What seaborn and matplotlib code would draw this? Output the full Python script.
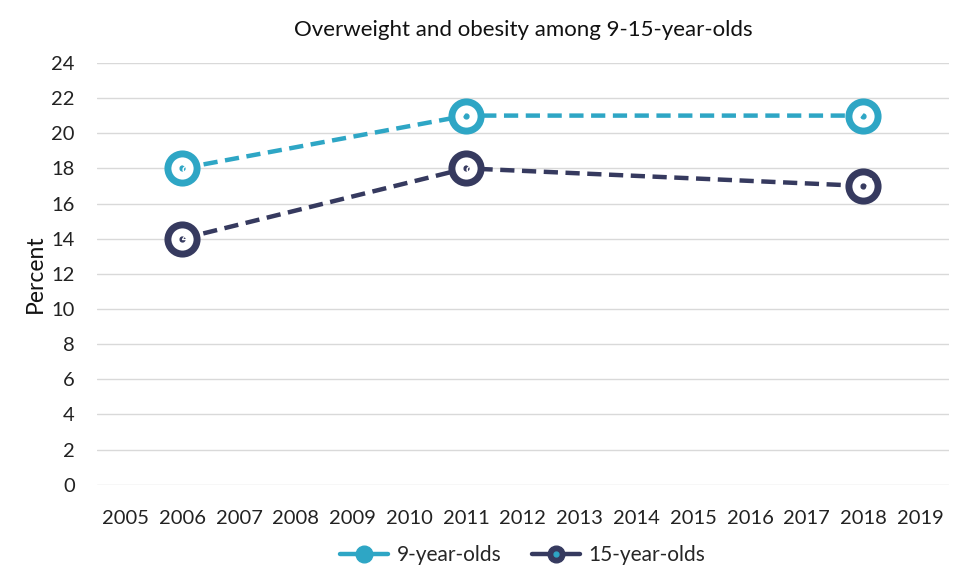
import numpy as np
import pandas as pd
import seaborn as sns
from matplotlib import pyplot as plt
from matplotlib.lines import Line2D

years = [2006, 2011, 2018]
age9 = [18, 21, 21]
age15 = [14, 18, 17]
series_names = ['9-year-olds', '15-year-olds']
x_ticks = list(range(2005, 2020))
y_ticks = list(range(0, 25, 2))

COLORS = {'9-year-olds': '#2EA6C5', '15-year-olds': '#363A5F'}

df = pd.DataFrame({
    'year': years * 2,
    'value': age9 + age15,
    'group': [series_names[0]] * len(years) + [series_names[1]] * len(years),
})

sns.set_style('white')
plt.rcParams['font.family'] = ['Lato', 'DejaVu Sans']

fig, ax = plt.subplots(figsize=(9.7, 5.82), dpi=100)
fig.subplots_adjust(left=0.1, right=0.978, top=0.892, bottom=0.167)

for y in y_ticks:
    ax.axhline(y, color='#D9D9D9', lw=1, zorder=0)

sns.lineplot(data=df, x='year', y='value', hue='group', palette=COLORS,
             hue_order=series_names, ax=ax, lw=3.2, legend=False, zorder=2)
for line in ax.get_lines()[len(y_ticks):]:
    line.set_dashes((3.2, 1.7))

# big ring markers with small centre dot
for name in series_names:
    sub = df[df['group'] == name]
    c = COLORS[name]
    ax.plot(sub['year'], sub['value'], ls='none', marker='o', ms=21,
            mfc='white', mec=c, mew=5, zorder=3)
    ax.plot(sub['year'], sub['value'], ls='none', marker='o', ms=3.5,
            mfc=c, mec=c, zorder=4)
    for xv, yv in zip(sub['year'], sub['value']):
        ax.text(xv, yv, f'{yv}', color='white', ha='center', va='center',
                fontsize=12, zorder=5)

ax.set_xlim(2004.5, 2019.5)
ax.set_ylim(0, 24)
ax.set_xticks(x_ticks)
ax.set_yticks(y_ticks)
ax.tick_params(axis='x', labelsize=14.5, length=0, colors='#222222', pad=18)
ax.tick_params(axis='y', labelsize=14.5, length=0, colors='#222222', pad=16)
ax.set_xlabel('')
ax.set_ylabel('Percent', fontsize=16.5, color='#111111', labelpad=4)
sns.despine(ax=ax, left=True, bottom=True)
ax.set_title('Overweight and obesity among 9-15-year-olds', fontsize=16, pad=19,
             color='#111111')

handles = [
    (Line2D([], [], color=COLORS['9-year-olds'], lw=3.2, marker='o', ms=12,
            mfc=COLORS['9-year-olds'], mec=COLORS['9-year-olds'])),
    (Line2D([], [], color=COLORS['15-year-olds'], lw=3.2, marker='o', ms=12,
            mfc=COLORS['15-year-olds'], mec=COLORS['15-year-olds']),
     Line2D([], [], ls='none', marker='o', ms=3.5, mfc=COLORS['9-year-olds'],
            mec=COLORS['9-year-olds'])),
]
ax.legend(handles, series_names, loc='upper center', bbox_to_anchor=(0.5, -0.098),
          ncol=2, frameon=False, fontsize=15, handlelength=2.3, columnspacing=1.5,
          handletextpad=0.4)

fig.savefig('out.png', dpi=100)
